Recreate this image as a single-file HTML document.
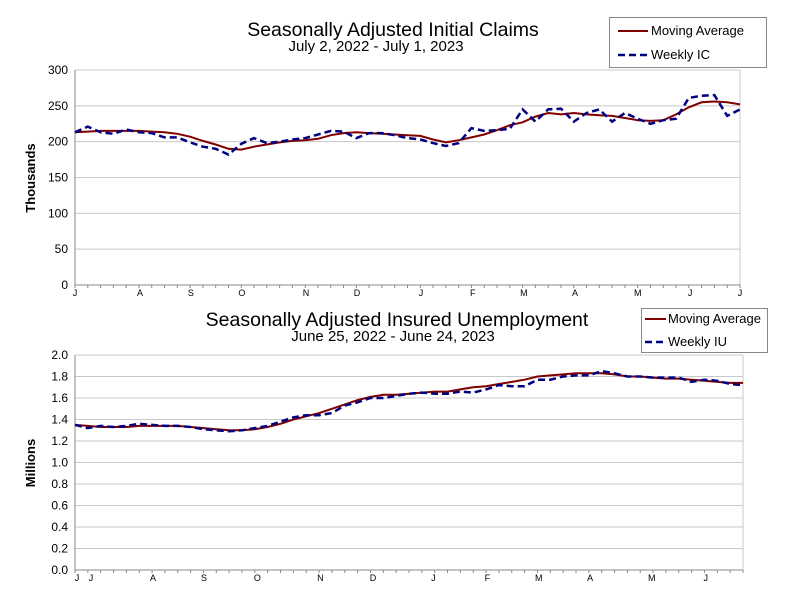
<!DOCTYPE html>
<html><head><meta charset="utf-8"><style>
body{margin:0;background:#fff;font-family:"Liberation Sans",sans-serif;}
svg text{font-family:"Liberation Sans",sans-serif;}
</style></head><body>
<svg id="c" width="791" height="609" xmlns="http://www.w3.org/2000/svg">
<text x="393" y="36" font-size="19.5" text-anchor="middle">Seasonally Adjusted Initial Claims</text>
<text x="376" y="51" font-size="15" text-anchor="middle">July 2, 2022 - July 1, 2023</text>
<text x="397" y="326" font-size="19.5" text-anchor="middle">Seasonally Adjusted Insured Unemployment</text>
<text x="393" y="341" font-size="15" text-anchor="middle">June 25, 2022 - June 24, 2023</text>
<text transform="translate(35,178) rotate(-90)" font-size="13" font-weight="bold" text-anchor="middle">Thousands</text>
<text transform="translate(35,463) rotate(-90)" font-size="13" font-weight="bold" text-anchor="middle">Millions</text>
<g>
<rect x="609.5" y="17.5" width="157" height="50" fill="#fff" stroke="#888"/>
<line x1="618" y1="31" x2="648" y2="31" stroke="#800000" stroke-width="2"/>
<text x="651" y="35" font-size="13">Moving Average</text>
<line x1="618" y1="55" x2="648" y2="55" stroke="#000080" stroke-width="2.5" stroke-dasharray="7,4"/>
<text x="651" y="59" font-size="13">Weekly IC</text>
</g>
<g>
<rect x="641.5" y="308.5" width="126" height="44" fill="#fff" stroke="#888"/>
<line x1="645" y1="319" x2="666" y2="319" stroke="#800000" stroke-width="2"/>
<text x="668" y="323" font-size="13">Moving Average</text>
<line x1="645" y1="342" x2="666" y2="342" stroke="#000080" stroke-width="2.5" stroke-dasharray="7,4"/>
<text x="668" y="346" font-size="13">Weekly IU</text>
</g>
</svg>
<script>
const icWeekly=[213,221,213,211,217,213,212,206,206,199,193,190,182,197,205,198,200,203,205,210,215,214,205,212,212,209,205,203,198,194,198,219,215,216,218,245,228,245,246,228,240,245,228,240,232,225,230,232,261,264,265,236,245];
const icMA=[213,214,215,215,215,215,214,213,211,207,201,196,190,189,193,196,199,201,202,204,209,212,213,212,211,210,209,208,203,199,202,206,210,216,223,227,235,240,238,240,238,237,236,233,230,229,230,238,248,255,256,255,252];
const icTicks=[0,50,100,150,200,250,300];
const icMonths=["J","A","S","O","N","D","J","F","M","A","M","J","J"];
const icMonthPos=[0,5.08,9.06,13.05,18.06,22.05,27.06,31.1,35.1,39.1,44,48.1,52];
const iuWeekly=[1.35,1.32,1.34,1.33,1.34,1.36,1.35,1.34,1.34,1.33,1.31,1.30,1.29,1.30,1.32,1.34,1.38,1.42,1.44,1.44,1.46,1.53,1.56,1.60,1.60,1.62,1.64,1.65,1.64,1.64,1.66,1.65,1.68,1.72,1.71,1.71,1.77,1.77,1.80,1.81,1.81,1.85,1.83,1.80,1.80,1.79,1.79,1.79,1.75,1.77,1.76,1.73,1.72];
const iuMA=[1.35,1.34,1.33,1.33,1.33,1.34,1.34,1.34,1.34,1.33,1.32,1.31,1.30,1.30,1.31,1.33,1.36,1.40,1.43,1.46,1.50,1.54,1.58,1.61,1.63,1.63,1.64,1.65,1.66,1.66,1.68,1.70,1.71,1.73,1.75,1.77,1.80,1.81,1.82,1.83,1.83,1.83,1.82,1.80,1.80,1.79,1.78,1.78,1.77,1.76,1.75,1.74,1.74];
const iuTicks=[0,0.2,0.4,0.6,0.8,1.0,1.2,1.4,1.6,1.8,2.0];
const iuMonths=["J","J","A","S","O","N","D","J","F","M","A","M","J"];
const iuMonthPos=[0.16,1.25,6.07,10.04,14.2,19.1,23.2,27.9,32.1,36.1,40.1,44.9,49.1];
const NS="http://www.w3.org/2000/svg";
const svg=document.getElementById('c');
function mk(t,a){const e=document.createElementNS(NS,t);for(const k in a)e.setAttribute(k,a[k]);svg.appendChild(e);return e;}
function chart(o){
 const n=o.weekly.length;
 const xs=i=>o.x0+(o.x1-o.x0)*i/(n-1);
 const ys=v=>o.y1-(o.y1-o.y0)*(v-o.min)/(o.max-o.min);
 o.ticks.forEach(t=>{
  const y=ys(t);
  if(t>o.min){const g=mk('line',{x1:o.x0,x2:o.x1,y1:y,y2:y,stroke:'#c8c8c8','stroke-width':1});
  
  }
  const l=mk('text',{x:o.x0-7,y:y+4,'font-size':12,'text-anchor':'end'});
  l.textContent=o.fmt(t);
  
  
 });
 const r=mk('line',{x1:o.x1,x2:o.x1,y1:o.y0,y2:o.y1,stroke:'#c8c8c8'});
 
 
 const ya=mk('line',{x1:o.x0,x2:o.x0,y1:o.y0,y2:o.y1,stroke:'#888'});
 
 
 const xa=mk('line',{x1:o.x0,x2:o.x1,y1:o.y1,y2:o.y1,stroke:'#888'});
 
 
 for(let i=0;i<n;i++){const t=mk('line',{x1:xs(i),x2:xs(i),y1:o.y1,y2:o.y1+3,stroke:'#888'});
  
  }
 o.months.forEach((m,i)=>{const t=mk('text',{x:xs(o.mpos[i]),y:o.y1+11,'font-size':9,'text-anchor':'middle'});
  t.textContent=m;
  
  });
 const pts=a=>a.map((v,i)=>xs(i).toFixed(1)+','+ys(v).toFixed(1)).join(' ');
 const ma=mk('polyline',{points:pts(o.ma),fill:'none',stroke:'#800000','stroke-width':2});
 
 
 const w=mk('polyline',{points:pts(o.weekly),fill:'none',stroke:'#000080','stroke-width':2.5,'stroke-dasharray':'7,4'});
 
 
}
chart({p:'claims',weekly:icWeekly,ma:icMA,ticks:icTicks,months:icMonths,mpos:icMonthPos,x0:75,x1:740,y0:70,y1:285,min:0,max:300,fmt:v=>String(v)});
chart({p:'insured',weekly:iuWeekly,ma:iuMA,ticks:iuTicks,months:iuMonths,mpos:iuMonthPos,x0:75,x1:743,y0:355,y1:570,min:0,max:2,fmt:v=>v.toFixed(1)});
</script>
</body></html>
